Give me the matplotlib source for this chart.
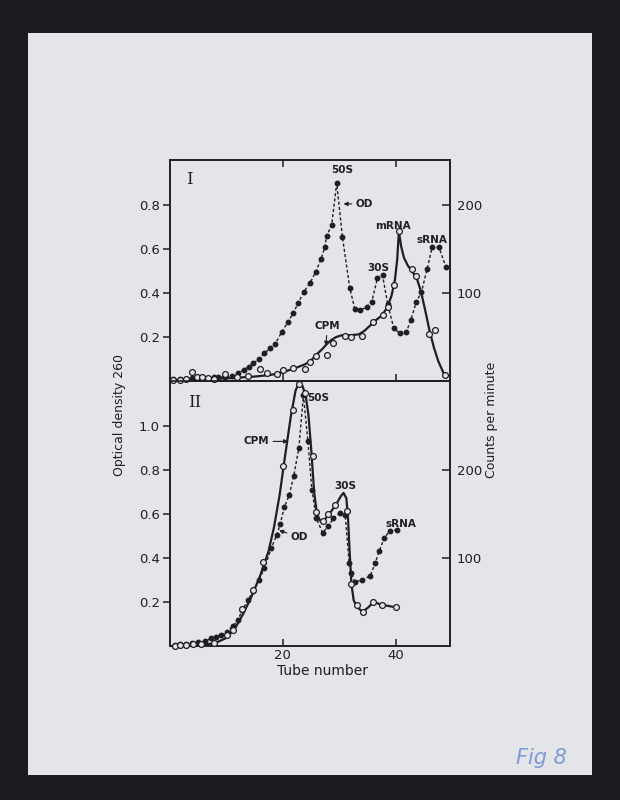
import matplotlib
matplotlib.use('Agg')
import matplotlib.pyplot as plt
from matplotlib.patches import Rectangle

# ---------------- data ----------------
# Panel I : optical density (dashed, filled dots)
od1_tube = [0.7, 1.9, 3.0, 3.9, 4.8, 5.7, 6.9, 7.8, 8.6, 9.8,
            11.0, 12.1, 13.1, 14.0, 14.8, 15.8, 16.8, 17.8, 18.7, 19.9,
            21.0, 21.9, 22.8, 23.8, 24.9, 25.9, 26.8, 27.5, 27.8, 28.7,
            29.6, 30.6, 31.9, 32.8, 33.8, 34.9, 35.8, 36.8, 37.7, 38.6,
            39.7, 40.8, 41.9, 42.7, 43.7, 44.6, 45.6, 46.5, 47.7, 48.9]
od1 = [0.008, 0.008, 0.008, 0.012, 0.012, 0.012, 0.012, 0.016, 0.016, 0.02,
       0.023, 0.035, 0.05, 0.065, 0.08, 0.099, 0.126, 0.149, 0.168, 0.224,
       0.27, 0.308, 0.356, 0.406, 0.447, 0.497, 0.553, 0.608, 0.659, 0.709,
       0.899, 0.656, 0.424, 0.327, 0.323, 0.335, 0.36, 0.467, 0.482, 0.352,
       0.239, 0.217, 0.221, 0.277, 0.36, 0.405, 0.51, 0.61, 0.607, 0.52]
# Panel I : counts per minute (open circles)
cpm1_tube = [0.7, 1.9, 3.0, 3.9, 4.8, 5.8, 6.9, 7.8, 9.8, 11.9,
             13.9, 16.0, 17.2, 19.0, 20.0, 21.9, 23.9, 24.9, 25.9, 27.9,
             29.0, 31.0, 32.2, 34.1, 36.0, 37.8, 38.6, 39.7, 40.6, 42.9,
             43.7, 46.0, 47.0, 48.8]
cpm1 = [1, 1, 2, 10.6, 4, 4, 3, 2, 8.3, 4.5,
        6, 13.6, 9, 8.3, 12, 14.8, 13.6, 22, 28.3, 29.5,
        43.6, 51.5, 50.4, 51.5, 66.7, 75, 84, 109, 170, 127,
        119, 53.4, 58, 7]
# Panel I : hand-drawn CPM curve
cur1_tube = [0.5, 5, 10, 15, 18, 20, 22, 24, 25, 26,
             27, 27.7, 28.5, 29.5, 30.5, 32, 33.5, 34.5, 35.5, 36.5,
             37.5, 38.5, 39.3, 39.9, 40.3, 40.6, 41.0, 41.5, 42.2, 43.0,
             43.8, 44.5, 45.2, 46.0, 46.8, 47.6, 48.8]
cur1 = [1, 2, 3, 5, 7, 10, 14, 19, 23, 30,
        36, 41, 46, 50, 52, 52, 53, 57, 63, 69,
        74, 83, 97, 115, 138, 170, 153, 140, 131, 124,
        116, 102, 82, 58, 38, 22, 5]

# Panel II : optical density
od2_tube = [1.0, 1.9, 3.0, 3.9, 5.1, 6.3, 7.4, 8.3, 9.2, 10.1,
            11.2, 12.1, 12.9, 13.9, 14.8, 15.8, 16.8, 18.0, 19.0, 19.6,
            20.3, 21.2, 22.0, 22.9, 23.7, 24.5, 25.2, 26.0, 27.1, 28.1,
            29.0, 30.2, 31.1, 31.8, 32.2, 32.8, 34.0, 35.5, 36.4, 37.1,
            38.0, 39.0, 40.2]
od2 = [0.005, 0.008, 0.01, 0.012, 0.016, 0.022, 0.035, 0.042, 0.05, 0.065,
       0.09, 0.118, 0.164, 0.209, 0.25, 0.3, 0.353, 0.444, 0.506, 0.555,
       0.63, 0.686, 0.775, 0.9, 1.14, 0.93, 0.71, 0.58, 0.515, 0.545,
       0.58, 0.606, 0.595, 0.376, 0.33, 0.29, 0.3, 0.318, 0.376, 0.43,
       0.49, 0.524, 0.527]
# Panel II : counts per minute
cpm2_tube = [1.0, 1.9, 3.0, 4.2, 5.5, 7.8, 10.1, 11.3, 12.9, 14.8,
             16.6, 20.0, 21.9, 22.9, 24.0, 25.4, 26.0, 27.2, 28.1, 29.3,
             31.4, 32.1, 33.1, 34.2, 36.1, 37.6, 40.0]
cpm2 = [0.5, 1, 1.5, 2.3, 2.5, 3.8, 12, 18, 42, 64,
        95, 204, 268, 298, 288, 216, 152, 142, 150, 160,
        153, 70, 47, 39, 50, 47, 44]
cur2_tube = [0.5, 5, 8, 10, 11.5, 13, 14.5, 16, 17.5, 18.5,
             19.5, 20.5, 21.5, 22.3, 22.9, 23.5, 24.1, 24.6, 25.1, 25.6,
             26.1, 26.7, 27.5, 28.5, 29.5, 30.3, 30.8, 31.3, 31.6, 31.9,
             32.2, 32.6, 33.2, 34.2, 35.2, 36.1, 37.5, 40.0]
cur2 = [0, 1, 3, 9, 19, 36, 56, 79, 107, 135,
        172, 218, 262, 290, 299, 296, 285, 262, 222, 175,
        150, 142, 144, 152, 161, 170, 174, 168, 145, 105,
        70, 52, 44, 39, 44, 50, 47, 44]

od_ticks_1 = [0.2, 0.4, 0.6, 0.8]
od_ticks_2 = [0.2, 0.4, 0.6, 0.8, 1.0]
cpm_ticks = [100, 200]
x_ticks = [20, 40]

# ---------------- styling ----------------
INK = '#1f1f22'
PAPER = '#e4e5e9'
plt.rcParams['font.family'] = ['DejaVu Sans']

W, H = 620, 800
fig = plt.figure(figsize=(W / 100, H / 100), dpi=100, facecolor='#1b1b21')
fig.add_artist(Rectangle((28 / W, 1 - 775 / H), (592 - 28) / W, (775 - 33) / H,
                         transform=fig.transFigure, facecolor=PAPER,
                         edgecolor='none', zorder=0))

L = 169.5 / W
AW = (450 - 169.5) / W
XMAX = (450 - 169.5) / 5.65
ax1 = fig.add_axes([L, 1 - 381 / H, AW, 221 / H])
ax2 = fig.add_axes([L, 1 - 646 / H, AW, 265 / H])
ylims = [221 / 220, 265 / 220]
CPM_PER_OD = 250.0

panels = [
    (ax1, od1_tube, od1, cpm1_tube, cpm1, cur1_tube, cur1, od_ticks_1, ylims[0]),
    (ax2, od2_tube, od2, cpm2_tube, cpm2, cur2_tube, cur2, od_ticks_2, ylims[1]),
]
for ax, ot, ov, ct, cv, kt, kv, oticks, ymax in panels:
    ax.set_facecolor('none')
    ax.set_xlim(0, XMAX)
    ax.set_ylim(0, ymax)
    ax.plot(ot, ov, linestyle=(0, (2.2, 1.6)), color=INK, lw=1.0,
            marker='o', ms=3.2, mfc=INK, mec=INK, zorder=3)
    tw = ax.twinx()
    tw.set_ylim(0, ymax * CPM_PER_OD)
    tw.plot(kt, kv, color=INK, lw=1.6, zorder=4, clip_on=False,
            solid_joinstyle='round')
    tw.plot(ct, cv, linestyle='none', marker='o', ms=4.2, mfc=PAPER,
            mec=INK, mew=0.9, zorder=5, clip_on=False)
    ax.set_yticks(oticks)
    ax.set_yticklabels([f'{v:.1f}' for v in oticks])
    tw.set_yticks(cpm_ticks)
    tw.set_yticklabels([str(v) for v in cpm_ticks])
    ax.set_xticks(x_ticks)
    for a in (ax, tw):
        for s in a.spines.values():
            s.set_color(INK)
            s.set_linewidth(1.2)
    ax.tick_params(axis='y', direction='out', length=5, width=1.1,
                   labelsize=9.5, pad=2, colors=INK)
    tw.tick_params(axis='y', direction='in', length=6, width=1.1,
                   labelsize=9.5, pad=5, colors=INK)
    ax.tick_params(axis='x', direction='in', length=5, width=1.1,
                   labelsize=9.5, pad=2, colors=INK)

ax1.tick_params(axis='x', top=True, labelbottom=False)
ax2.tick_params(axis='x', top=False)

ann = dict(fontsize=7.5, fontweight='bold', color=INK, ha='center', va='center')
arr = dict(arrowstyle='-|>', lw=0.8, color=INK, mutation_scale=6,
           shrinkA=1, shrinkB=0)

# panel I annotations
ax1.text(3.6, 0.914, 'I', fontsize=12, family='DejaVu Serif', color=INK,
         ha='center', va='center')
ax1.text(30.5, 0.96, '50S', **ann)
ax1.annotate('OD', xy=(30.8, 0.805), xytext=(33.0, 0.805), arrowprops=arr,
             **{**ann, 'ha': 'left'})
ax1.text(39.6, 0.705, 'mRNA', **ann)
ax1.text(46.5, 0.64, 'sRNA', **ann)
ax1.text(36.9, 0.514, '30S', **ann)
ax1.annotate('CPM', xy=(27.7, 0.16), xytext=(27.9, 0.248), arrowprops=arr,
             **ann)

# panel II annotations
ax2.text(4.5, 1.105, 'II', fontsize=12, family='DejaVu Serif', color=INK,
         ha='center', va='center')
ax2.text(26.4, 1.127, '50S', **ann)
ax2.annotate('CPM', xy=(21.0, 0.93), xytext=(17.6, 0.93), arrowprops=arr,
             **{**ann, 'ha': 'right'})
ax2.text(31.1, 0.727, '30S', **ann)
ax2.text(41.0, 0.555, 'sRNA', **ann)
ax2.annotate('OD', xy=(19.4, 0.525), xytext=(21.5, 0.495), arrowprops=arr,
             **{**ann, 'ha': 'left'})

# axis titles
fig.text(120 / W, 1 - 415 / H, 'Optical density 260', rotation=90,
         ha='center', va='center', fontsize=9, color=INK)
fig.text(492 / W, 1 - 420 / H, 'Counts per minute', rotation=90,
         ha='center', va='center', fontsize=9, color=INK)
fig.text(322 / W, 1 - 671 / H, 'Tube number', ha='center', va='center',
         fontsize=10, color=INK)

# handwritten note
fig.text(541 / W, 1 - 758 / H, 'Fig 8', ha='center', va='center',
         fontsize=15, style='italic', color='#7d9bd8')

fig.savefig('out.png', dpi=100, facecolor=fig.get_facecolor())
